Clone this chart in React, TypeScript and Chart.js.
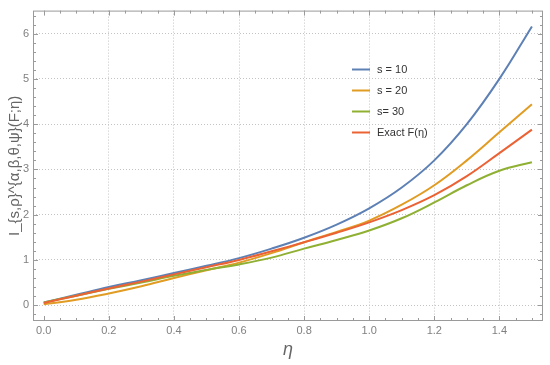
import React, { useEffect, useRef } from "react";
import { Chart, registerables } from "chart.js";
Chart.register(...registerables);

const eta = [0, 0.1, 0.2, 0.3, 0.4, 0.5, 0.6, 0.7, 0.8, 0.9, 1.0, 1.1, 1.2, 1.3, 1.4, 1.5];
const s10 = [0.06, 0.23, 0.4, 0.55, 0.71, 0.87, 1.04, 1.25, 1.49, 1.78, 2.14, 2.6, 3.2, 4.0, 5.0, 6.16];
const s20 = [0.02, 0.12, 0.26, 0.42, 0.6, 0.77, 0.94, 1.15, 1.39, 1.62, 1.87, 2.22, 2.65, 3.2, 3.82, 4.44];
const s30 = [0.06, 0.21, 0.36, 0.5, 0.65, 0.78, 0.9, 1.05, 1.25, 1.44, 1.65, 1.92, 2.27, 2.65, 2.97, 3.16];
const exact = [0.05, 0.21, 0.37, 0.52, 0.68, 0.84, 1.0, 1.19, 1.39, 1.6, 1.83, 2.1, 2.43, 2.85, 3.36, 3.88];

const seriesNames = ["s = 10", "s = 20", "s= 30", "Exact F(η)"];
const seriesColors = ["#5e81b5", "#e19c24", "#8fb032", "#eb6235"];
const xTicks = [0, 0.2, 0.4, 0.6, 0.8, 1.0, 1.2, 1.4];
const yTicks = [0, 1, 2, 3, 4, 5, 6];

const toPoints = (ys: number[]) => eta.map((x, i) => ({ x, y: ys[i] }));

export default function App() {
  const ref = useRef<HTMLCanvasElement>(null);
  useEffect(() => {
    const canvas = ref.current;
    if (!canvas) return;
    Chart.defaults.font.family = "'Liberation Sans', Arial, sans-serif";

    const framePlugin = {
      id: "frame",
      beforeDatasetsDraw(chart: any) {
        const { ctx, chartArea: a, scales } = chart;
        const xs = scales.x;
        const ys = scales.y;
        ctx.save();
        ctx.strokeStyle = "#9a9a9a";
        ctx.lineWidth = 1;
        ctx.strokeRect(a.left + 0.5, a.top + 0.5, a.right - a.left - 1, a.bottom - a.top - 1);
        const seg = (x1: number, y1: number, x2: number, y2: number) => {
          ctx.beginPath();
          ctx.moveTo(x1, y1);
          ctx.lineTo(x2, y2);
          ctx.stroke();
        };
        for (let k = 0; k <= 30; k++) {
          const v = k * 0.05;
          const major = k % 4 === 0;
          const len = major ? 5 : 3;
          const px = Math.round(xs.getPixelForValue(v)) + 0.5;
          seg(px, a.bottom, px, a.bottom - len);
          seg(px, a.top, px, a.top + len);
        }
        for (let k = -1; k <= 32; k++) {
          const v = k * 0.2;
          if (v < ys.min || v > ys.max) continue;
          const major = k % 5 === 0;
          const len = major ? 5 : 3;
          const py = Math.round(ys.getPixelForValue(v)) + 0.5;
          seg(a.left, py, a.left + len, py);
          seg(a.right, py, a.right - len, py);
        }
        ctx.restore();
      },
    };

    const legendPlugin = {
      id: "customLegend",
      afterDatasetsDraw(chart: any) {
        const { ctx } = chart;
        ctx.save();
        chart.data.datasets.forEach((ds: any, i: number) => {
          const y = 69.5 + i * 21;
          ctx.strokeStyle = ds.borderColor;
          ctx.lineWidth = 2;
          ctx.beginPath();
          ctx.moveTo(352, y);
          ctx.lineTo(370, y);
          ctx.stroke();
          ctx.fillStyle = "#333";
          ctx.font = "11px 'Liberation Sans', Arial, sans-serif";
          ctx.textBaseline = "middle";
          ctx.textAlign = "left";
          ctx.fillText(ds.label, 377, y);
        });
        ctx.restore();
      },
    };

    const datasetsRaw = [s10, s20, s30, exact];
    const chart = new Chart(canvas, {
      type: "line",
      data: {
        datasets: datasetsRaw.map((d, i) => ({
          label: seriesNames[i],
          data: toPoints(d),
          borderColor: seriesColors[i],
          backgroundColor: seriesColors[i],
          borderWidth: 2,
          pointRadius: 0,
          fill: false,
          tension: 0.4,
          order: 4 - i,
        })),
      },
      options: {
        animation: false,
        responsive: false,
        layout: { padding: { top: 7, right: 7, left: 0, bottom: 0 } },
        plugins: { legend: { display: false }, tooltip: { enabled: false } },
        scales: {
          x: {
            type: "linear",
            min: -0.033,
            max: 1.534,
            afterBuildTicks: (s: any) => {
              s.ticks = xTicks.map((v) => ({ value: v }));
            },
            afterFit: (s: any) => {
              s.height = 44;
            },
            ticks: {
              color: "#808080",
              font: { size: 11 },
              padding: 3,
              autoSkip: false,
              maxRotation: 0,
              callback: (v: any) => Number(v).toFixed(1),
            },
            grid: {
              drawTicks: false,
              lineWidth: 1,
              color: (c: any) => (c.tick && c.tick.value === 0 ? "rgba(0,0,0,0)" : "#c4c4c4"),
            },
            border: { display: false, dash: [1, 2] },
            title: {
              display: true,
              text: "η",
              color: "#666",
              font: { size: 18, style: "italic" },
              padding: { top: 0, bottom: 4 },
            },
          },
          y: {
            type: "linear",
            min: -0.35,
            max: 6.51,
            afterBuildTicks: (s: any) => {
              s.ticks = yTicks.map((v) => ({ value: v }));
            },
            afterFit: (s: any) => {
              s.width = 33;
            },
            ticks: {
              color: "#808080",
              font: { size: 11 },
              padding: 4,
              callback: (v: any) => String(v),
            },
            grid: { drawTicks: false, lineWidth: 1, color: "#c4c4c4" },
            border: { display: false, dash: [1, 2] },
            title: {
              display: true,
              text: "I_{s,ρ}^{α,β,θ,ψ}(F;η)",
              color: "#666",
              font: { size: 15 },
              padding: { top: 6, bottom: 0 },
            },
          },
        },
      },
      plugins: [framePlugin, legendPlugin],
    });
    return () => chart.destroy();
  }, []);

  return (
    <div style={{ position: "fixed", left: 0, top: 0, width: 550, height: 365, background: "#fff" }}>
      <canvas ref={ref} width={550} height={365} />
    </div>
  );
}
